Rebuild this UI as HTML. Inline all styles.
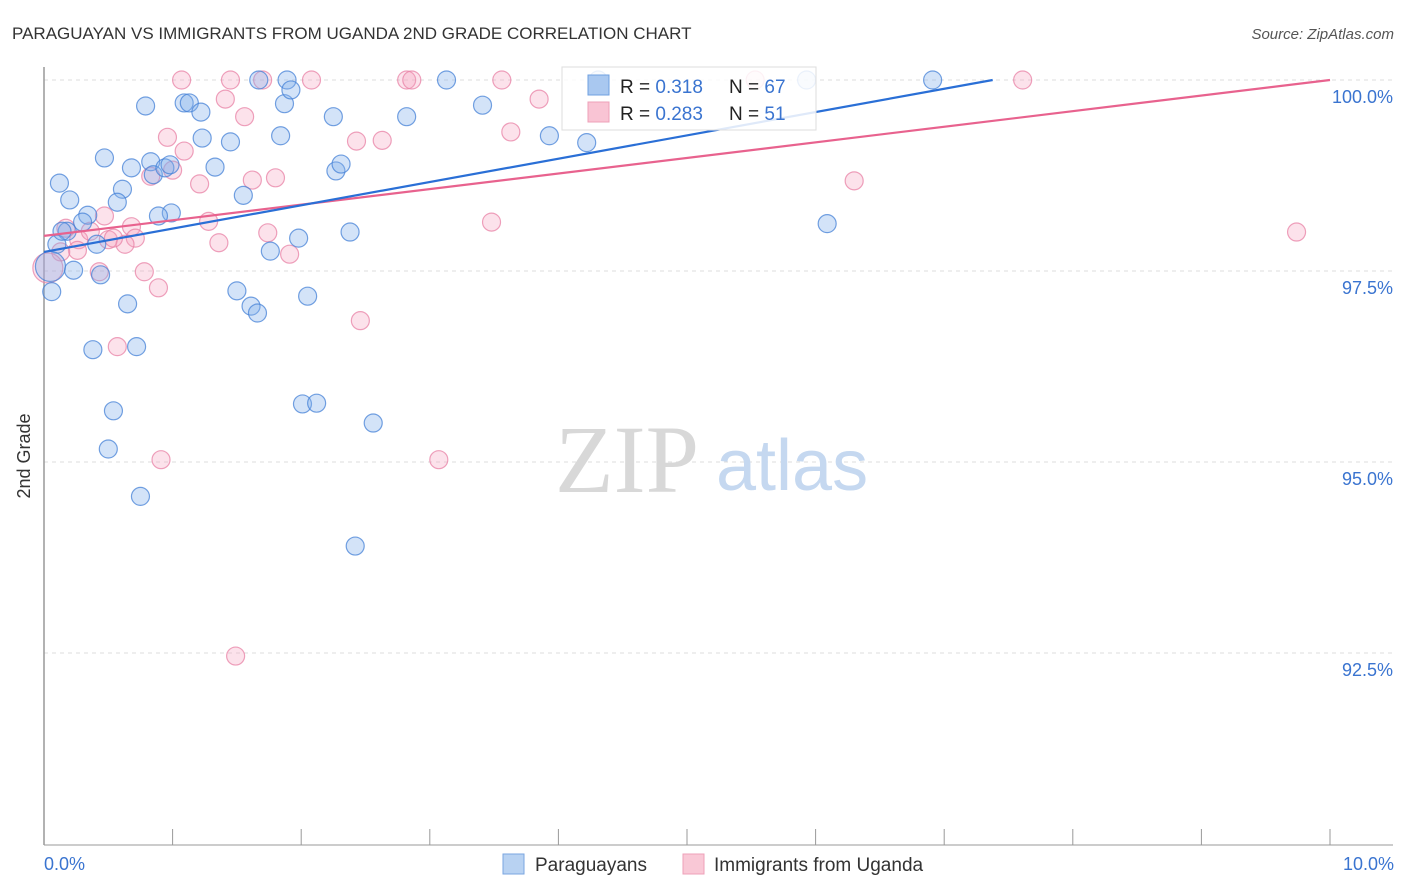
<!DOCTYPE html>
<html><head><meta charset="utf-8"><style>
body{margin:0;background:#fff;font-family:"Liberation Sans",sans-serif;}
#wrap{position:relative;width:1406px;height:892px;overflow:hidden;}
</style></head><body>
<div id="wrap">
<svg id="chart" width="1406" height="892" xmlns="http://www.w3.org/2000/svg">
<text x="12" y="39" font-size="17" fill="#333">PARAGUAYAN VS IMMIGRANTS FROM UGANDA 2ND GRADE CORRELATION CHART</text>
<text x="1394" y="39" font-size="15" fill="#555" text-anchor="end" font-style="italic">Source: ZipAtlas.com</text>
<g id="grid"></g>
<g>
<text x="555" y="492" font-size="96" font-family="Liberation Serif,serif" fill="#d8d8d8">ZIP</text>
<text x="716" y="490" font-size="72" fill="#c5d8f0">atlas</text>
</g>
<g id="axes"></g>
<g id="pts"></g>
<g id="trends"></g>
<text x="30" y="456" font-size="18" fill="#333" text-anchor="middle" transform="rotate(-90 30 456)">2nd Grade</text>
<g>
<rect x="562" y="67" width="254" height="63" fill="#fff" fill-opacity="0.85" stroke="#ddd"/>
<rect x="588" y="75" width="21" height="20" fill="#a9c8f0" stroke="#6fa0e0"/>
<rect x="588" y="102" width="21" height="20" fill="#f9c4d4" stroke="#eea0b8"/>
<text x="620" y="93" font-size="19" fill="#222">R = <tspan fill="#3a74d0">0.318</tspan></text>
<text x="729" y="93" font-size="19" fill="#222">N = <tspan fill="#3a74d0">67</tspan></text>
<text x="620" y="120" font-size="19" fill="#222">R = <tspan fill="#3a74d0">0.283</tspan></text>
<text x="729" y="120" font-size="19" fill="#222">N = <tspan fill="#3a74d0"> 51</tspan></text>
</g>
<g>
<rect x="503" y="854" width="21" height="20" fill="#b8d2f2" stroke="#7aa6e0"/>
<text x="535" y="871" font-size="19" fill="#333">Paraguayans</text>
<rect x="683" y="854" width="21" height="20" fill="#f9c8d6" stroke="#eea0b8"/>
<text x="714" y="871" font-size="19" fill="#333">Immigrants from Uganda</text>
</g>
</svg>
</div>
<script>
const yTicks=[100,97.5,95,92.5];
const yTickLabels=["100.0%","97.5%","95.0%","92.5%"];
const xTickLabels=["0.0%","10.0%"];
const blueX=[0.12,0.20,0.34,0.30,0.18,0.10,0.41,0.23,0.06,0.44,0.65,0.38,0.72,0.54,0.50,0.75,0.47,0.68,0.79,0.83,0.85,0.94,0.98,0.99,0.89,0.61,0.57,1.09,1.13,1.22,1.23,1.33,1.45,1.55,1.50,1.61,1.66,1.67,1.76,1.89,1.87,1.92,1.84,1.98,2.05,2.01,2.12,2.25,2.27,2.31,2.38,2.42,2.56,2.82,3.13,3.41,3.93,4.22,4.31,5.93,6.09,6.91,0.14,0.05];
const blueY=[98.65,98.43,98.23,98.14,98.02,97.85,97.85,97.51,97.23,97.45,97.07,96.47,96.51,95.67,95.17,94.55,98.98,98.85,99.66,98.93,98.76,98.85,98.89,98.26,98.22,98.57,98.40,99.70,99.70,99.58,99.24,98.86,99.19,98.49,97.24,97.04,96.95,100,97.76,100,99.69,99.87,99.27,97.93,97.17,95.76,95.77,99.52,98.81,98.90,98.01,93.90,95.51,99.52,100,99.67,99.27,99.18,100,100,98.12,100,98.02,97.56];
const pinkX=[1.07,1.45,1.70,2.08,2.82,2.86,3.56,5.53,7.61,1.41,1.56,0.96,1.09,0.83,1.00,1.21,1.62,1.80,2.43,2.63,3.63,3.85,6.30,3.48,9.74,1.28,0.68,0.47,0.17,0.27,0.36,0.26,0.13,0.50,0.71,0.63,1.36,1.74,1.91,0.78,0.43,0.89,0.03,2.46,0.57,0.91,3.07,1.49,0.54];
const pinkY=[100,100,100,100,100,100,100,100,100,99.75,99.52,99.25,99.07,98.74,98.82,98.64,98.69,98.72,99.20,99.21,99.32,99.75,98.68,98.14,98.01,98.15,98.08,98.22,98.06,97.91,98.02,97.77,97.75,97.91,97.93,97.85,97.87,98.00,97.72,97.49,97.49,97.28,97.54,96.85,96.51,95.03,95.03,92.46,97.93];
const blueTrend=[97.75,100.8];
const pinkTrend=[97.96,100.0];
const NS="http://www.w3.org/2000/svg";
const X0=44,X1=1330,Y100=80,Y90=844;
function sx(v){return X0+(v/10)*(X1-X0);}
function sy(v){return Y100+(100-v)/10*(Y90-Y100);}
function mk(tag,attrs,parent){const e=document.createElementNS(NS,tag);for(const k in attrs)e.setAttribute(k,attrs[k]);parent.appendChild(e);return e;}
const grid=document.getElementById('grid'),axes=document.getElementById('axes');
yTicks.forEach((t,i)=>{
  const l=mk('line',{x1:X0,x2:1393,y1:sy(t),y2:sy(t),stroke:'#ddd','stroke-dasharray':'4,4'},grid);
  
  
  const tx=mk('text',{x:1393,y:sy(t)+23,'font-size':18,fill:'#3a74d0','text-anchor':'end'},axes);
  tx.textContent=yTickLabels[i];
  
  
});
mk('line',{x1:X0,x2:X0,y1:67,y2:845,stroke:'#999','stroke-width':1.5},axes);
mk('line',{x1:X0,x2:1393,y1:845,y2:845,stroke:'#999','stroke-width':1},axes);
for(let i=0;i<=10;i++){mk('line',{x1:sx(i),x2:sx(i),y1:829,y2:845,stroke:'#999'},axes);}
const xl0=mk('text',{x:44,y:870,'font-size':18,fill:'#3a74d0'},axes);xl0.textContent=xTickLabels[0];


const xl1=mk('text',{x:1394,y:870,'font-size':18,fill:'#3a74d0','text-anchor':'end'},axes);xl1.textContent=xTickLabels[1];


const pts=document.getElementById('pts');
function drawSeries(xs,ys,fill,stroke,name){
  xs.forEach((x,i)=>{
    const big=(i===xs.length-1&&name==='blue-point')||(name==='pink-point'&&i===42);
    const c=mk('circle',{cx:sx(x),cy:sy(ys[i]),r:big?15:9,fill:fill,stroke:stroke,'stroke-width':1.2},pts);
    
    
  });
}
drawSeries(pinkX,pinkY,'rgba(245,160,190,0.3)','rgba(232,130,165,0.75)','pink-point');
drawSeries(blueX,blueY,'rgba(130,175,235,0.35)','rgba(70,130,215,0.75)','blue-point');
const tr=document.getElementById('trends');
function trend(t,color,name){
  let x2=10,y2=t[1];
  if(y2>100){x2=10*(100-t[0])/(t[1]-t[0]);y2=100;}
  const l=mk('line',{x1:sx(0),y1:sy(t[0]),x2:sx(x2),y2:sy(y2),stroke:color,'stroke-width':2.2},tr);
  
  
}
trend(pinkTrend,'#e8628e','pink-trend-line');
trend(blueTrend,'#2a6fd6','blue-trend-line');
</script>
</body></html>
